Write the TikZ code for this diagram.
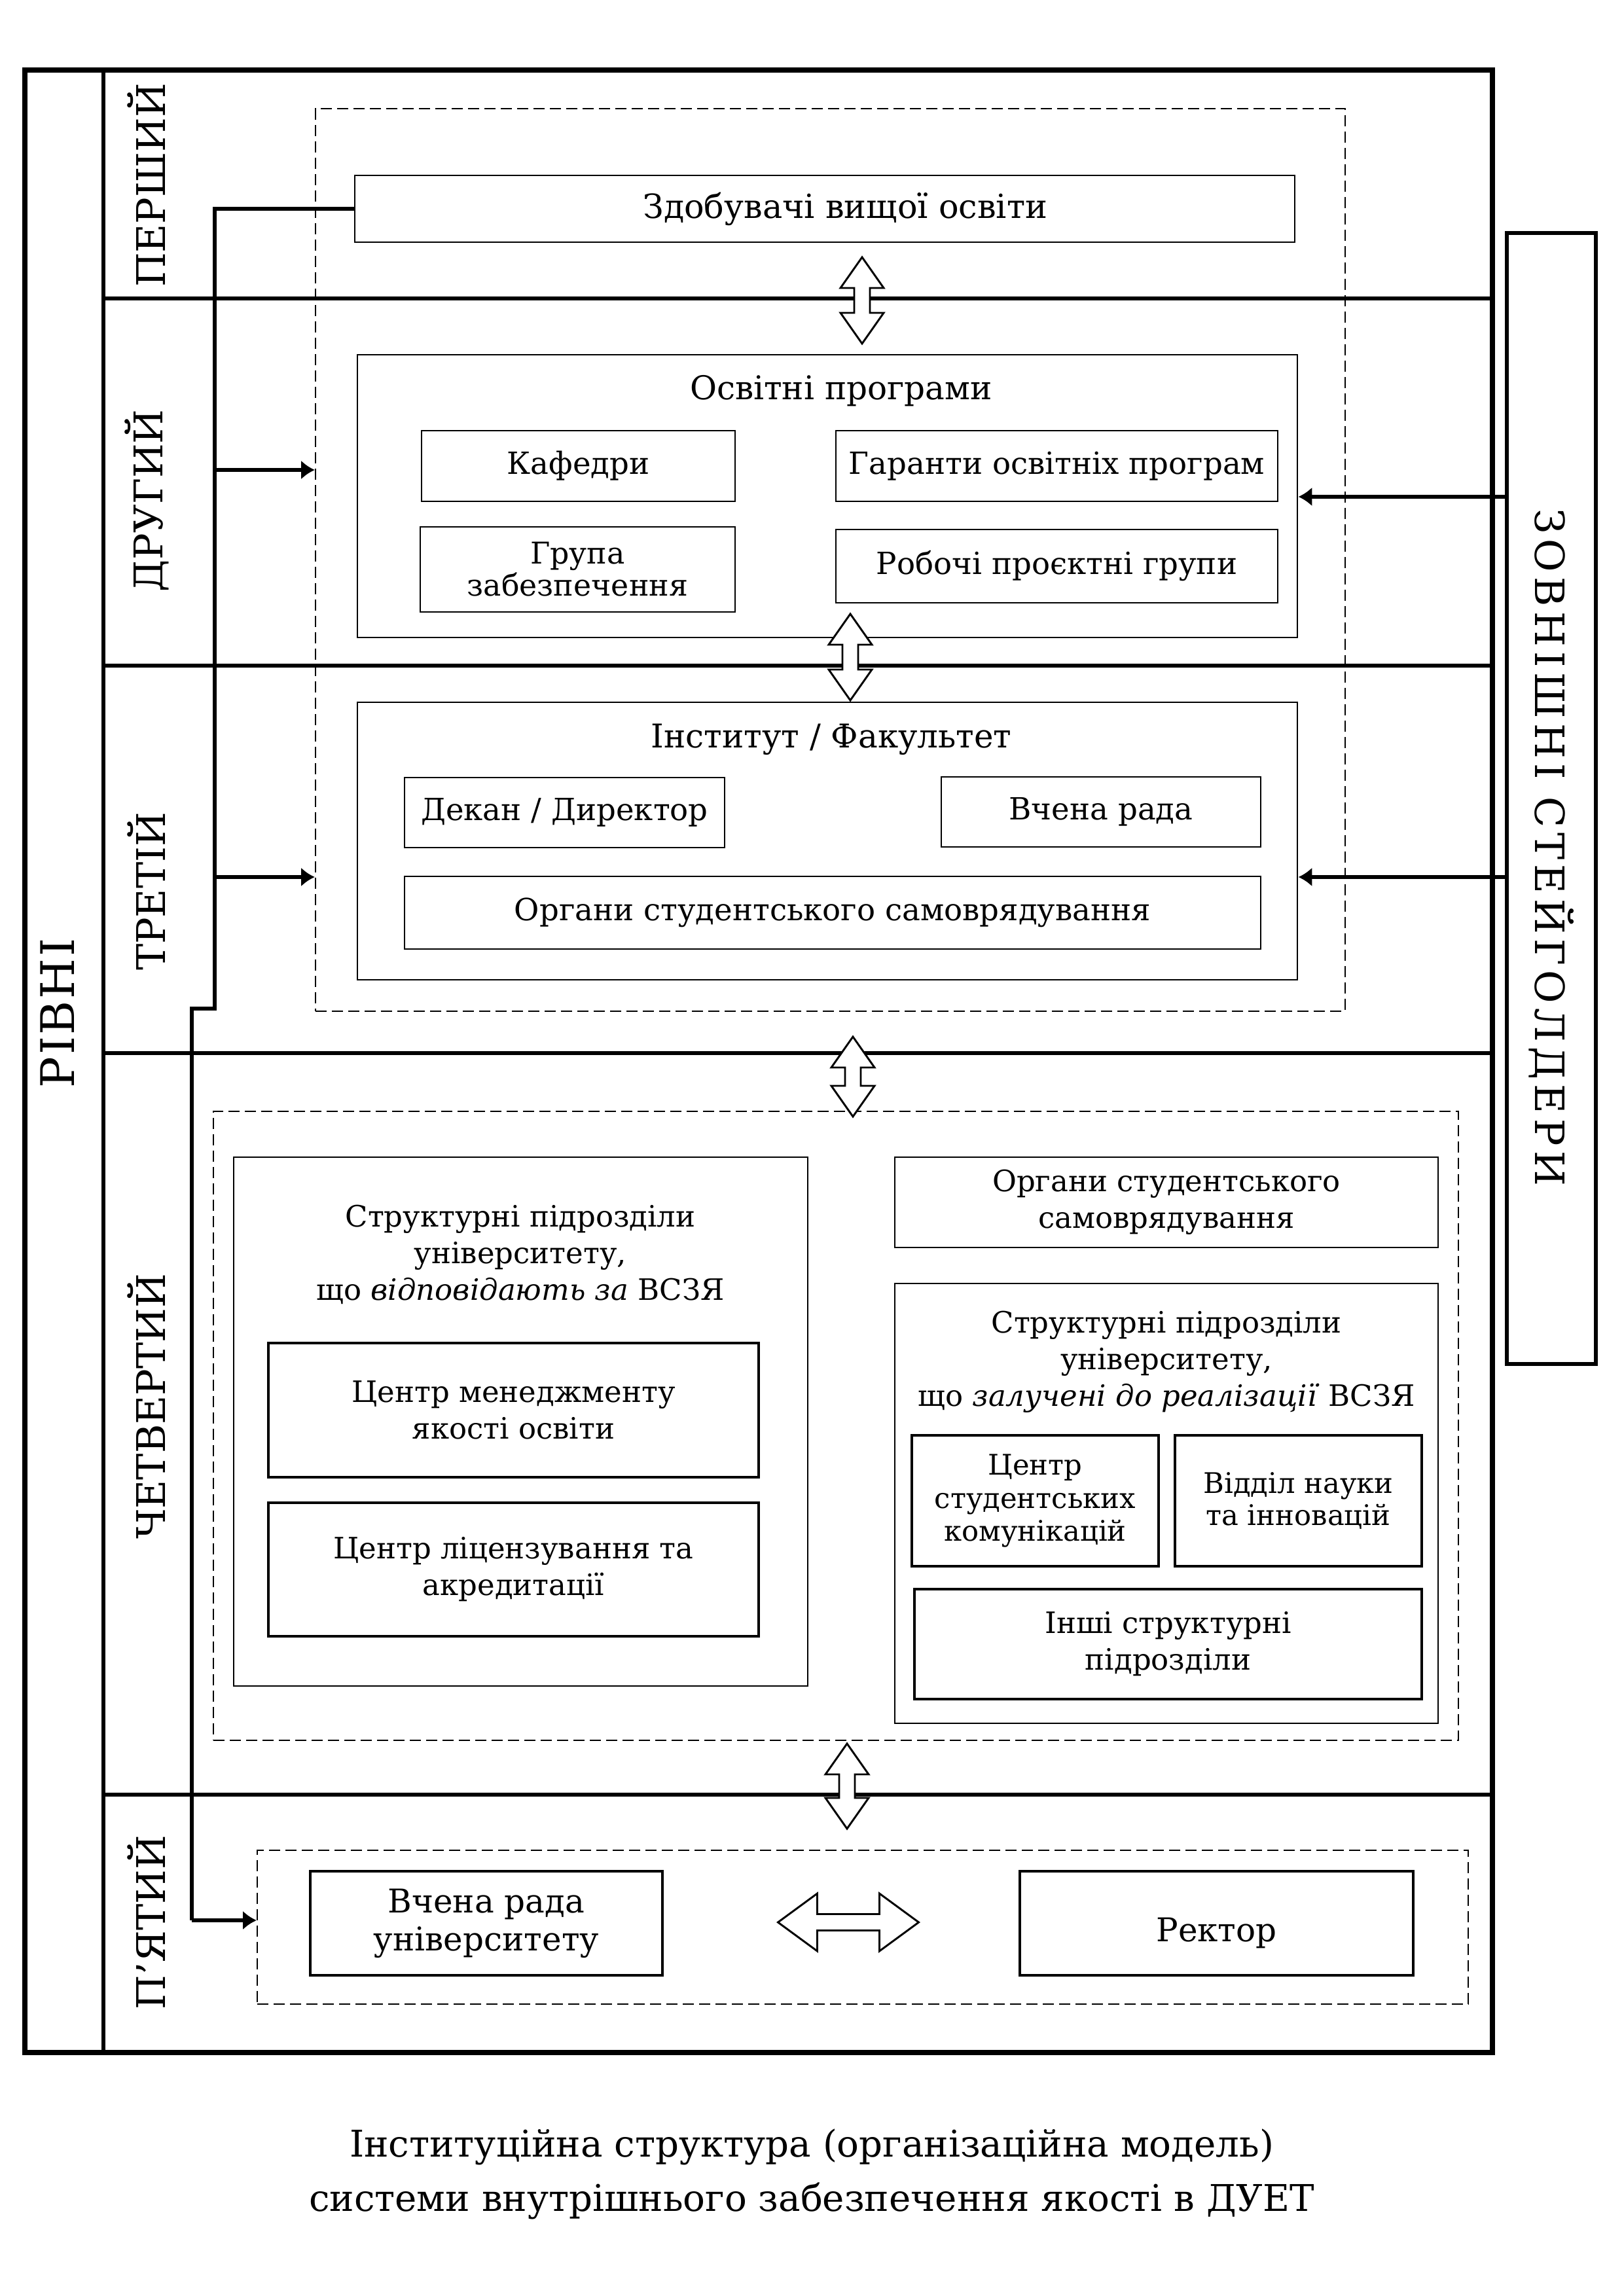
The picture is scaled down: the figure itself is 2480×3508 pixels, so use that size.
\documentclass[tikz,border=0pt]{standalone}
\usepackage{fontspec}
\setmainfont{DejaVu Serif}
\newfontfamily\spacedfont[LetterSpace=12]{DejaVu Serif}
\newfontfamily\lightspaced[LetterSpace=4]{DejaVu Serif}
\usetikzlibrary{arrows.meta}
\begin{document}
\begin{tikzpicture}[x=0.24pt,y=-0.24pt,
  bx/.style n args={4}{draw, line width=0.7pt, inner sep=0pt, align=center,
     minimum width={(#3-#1)*0.24pt}, minimum height={(#4-#2)*0.24pt},
     at={({(#1+#3)/2},{(#2+#4)/2})}},
  dbx/.style={dashed, dash pattern=on 4pt off 2pt, line width=0.5pt},
  lvl/.style={line width=1.6pt},
  conn/.style={line width=1.4pt},
  arr/.style={line width=1.4pt, -{Latex[length=5pt,width=7pt]}},
  dbl/.style={draw, fill=white, line width=0.7pt, line join=miter},
  ftitle/.style={font=\fontsize{12}{15}\selectfont},
  finner/.style={font=\fontsize{11.2}{13.5}\selectfont},
  ffour/.style={font=\fontsize{10.8}{13.4}\selectfont},
  fsmall/.style={font=\fontsize{10.4}{12.2}\selectfont},
  flevel/.style={font=\fontsize{14.5}{16}\selectfont, inner sep=0pt},
  pics/vdbl/.style={code={
    \draw[dbl] (0,-#1/2) -- (33,-#1/2+47) -- (12,-#1/2+47) -- (12,#1/2-47) -- (33,#1/2-47)
      -- (0,#1/2) -- (-33,#1/2-47) -- (-12,#1/2-47) -- (-12,-#1/2+47) -- (-33,-#1/2+47) -- cycle;}},
  pics/hdbl/.style={code={
    \draw[dbl] (-#1/2,0) -- (-#1/2+60,-44) -- (-#1/2+60,-12.5) -- (#1/2-60,-12.5) -- (#1/2-60,-44)
      -- (#1/2,0) -- (#1/2-60,44) -- (#1/2-60,12.5) -- (-#1/2+60,12.5) -- (-#1/2+60,44) -- cycle;}}
]
\useasboundingbox (0,0) rectangle (2480,3508);

% outer frame and level column
\node[bx={38}{107}{2280}{3136}, line width=1.7pt] (frame) {};
\coordinate (colT) at (158,107);
\coordinate (colB) at (158,3136);
\draw[lvl] (colT) -- (colB);

% level separators
\coordinate (l1a) at (158,456);  \coordinate (l1b) at (2280,456);
\coordinate (l2a) at (158,1017); \coordinate (l2b) at (2280,1017);
\coordinate (l3a) at (158,1609); \coordinate (l3b) at (2280,1609);
\coordinate (l4a) at (158,2742); \coordinate (l4b) at (2280,2742);
\draw[lvl] (l1a) -- (l1b);
\draw[lvl] (l2a) -- (l2b);
\draw[lvl] (l3a) -- (l3b);
\draw[lvl] (l4a) -- (l4b);

% labels
\node[rotate=90, font=\lightspaced\fontsize{17}{18}\selectfont, inner sep=0pt] (rivni) at (88,1548) {РІВНІ};
\node[rotate=90, flevel] (lev1) at (224,283) {ПЕРШИЙ};
\node[rotate=90, flevel] (lev2) at (224,765) {ДРУГИЙ};
\node[rotate=90, flevel] (lev3) at (224,1362) {ТРЕТІЙ};
\node[rotate=90, flevel] (lev4) at (224,2149) {ЧЕТВЕРТИЙ};
\node[rotate=90, flevel] (lev5) at (224,2937) {П’ЯТИЙ};

% external stakeholders
\node[bx={2302}{356}{2438}{2084}, line width=1.3pt] (stake) {};
\node[rotate=-90, font=\spacedfont\fontsize{14.8}{16}\selectfont, inner sep=0pt] (stakeT) at (2370,1295) {ЗОВНІШНІ СТЕЙГОЛДЕРИ};

% dashed groups
\node[bx={482}{166}{2055}{1545}, dbx] (dashA) {};
\node[bx={326}{1698}{2228}{2659}, dbx] (dashB) {};
\node[bx={393}{2827}{2243}{3062}, dbx] (dashC) {};

% level 1
\node[bx={542}{268}{1978}{370}, font=\fontsize{12.2}{14}\selectfont] (zdob) {\hspace*{15pt}Здобувачі вищої освіти};

% level 2
\node[bx={546}{542}{1982}{974}] (osv) {};
\node[ftitle] (osvT) at (1285,597) {Освітні програми};
\node[bx={644}{658}{1123}{766}, finner] (kaf) {Кафедри};
\node[bx={1277}{658}{1952}{766}, finner] (gar) {Гаранти освітніх програм};
\node[bx={642}{805}{1123}{935}, font=\fontsize{11}{11.8}\selectfont] (grup) {Група\\забезпечення};
\node[bx={1277}{809}{1952}{921}, finner] (rob) {Робочі проєктні групи};

% level 3
\node[bx={546}{1073}{1982}{1497}] (inst) {};
\node[ftitle] (instT) at (1270,1130) {Інститут / Факультет};
\node[bx={618}{1188}{1107}{1295}, finner] (dek) {Декан / Директор};
\node[bx={1438}{1187}{1926}{1294}, finner] (vch) {Вчена рада};
\node[bx={618}{1339}{1926}{1450}, finner] (org) {Органи студентського самоврядування};

% level 4
\node[bx={357}{1768}{1234}{2576}] (lbig) {};
\node[ffour, align=center] (lbT) at (795,1917) {Структурні підрозділи\\університету,\\що \textit{відповідають за} ВСЗЯ};
\node[bx={410}{2052}{1159}{2257}, ffour, line width=0.9pt] (cmy) {Центр менеджменту\\якості освіти};
\node[bx={410}{2296}{1159}{2500}, ffour, line width=0.9pt] (clic) {Центр ліцензування та\\акредитації};
\node[bx={1367}{1768}{2197}{1906}, ffour] (orgs) {Органи студентського\\самоврядування};
\node[bx={1367}{1961}{2197}{2633}] (rbig) {};
\node[ffour, align=center] (rbT) at (1782,2081) {Структурні підрозділи\\університету,\\що \textit{залучені до реалізації} ВСЗЯ};
\node[bx={1393}{2193}{1770}{2393}, fsmall, line width=0.9pt] (csk) {Центр\\студентських\\комунікацій};
\node[bx={1795}{2193}{2172}{2393}, font=\fontsize{10.4}{11.8}\selectfont, line width=0.9pt] (vni) {Відділ науки\\та інновацій};
\node[bx={1397}{2428}{2172}{2596}, ffour, line width=0.9pt] (inshi) {Інші структурні\\підрозділи};

% level 5
\node[bx={474}{2859}{1012}{3018}, font=\fontsize{12}{14}\selectfont, line width=0.9pt] (vru) {Вчена рада\\університету};
\node[bx={1558}{2859}{2159}{3018}, font=\fontsize{12}{14}\selectfont, line width=0.9pt] (rek) {\raisebox{-3.5pt}[\height][\depth]{Ректор}};

% double arrows
\pic at (1317,459) {vdbl=132};
\pic at (1299,1004) {vdbl=132};
\pic at (1303,1645) {vdbl=122};
\pic at (1294,2729) {vdbl=130};
\pic at (1296,2937) {hdbl=215};

% left connector
\coordinate (k1) at (328,318);
\coordinate (k2) at (328,1541);
\coordinate (k3) at (293,1541);
\coordinate (k4) at (293,2934);
\coordinate (k5) at (328,718);
\coordinate (k6) at (328,1340);
\draw[conn, line join=miter] (zdob.west) -- (zdob.west -| k1) -- (k2) -- (k3) -- (k4);
\draw[arr] (k4) -- (k4 -| dashC.west);
\draw[arr] (k5) -- (k5 -| dashA.west);
\draw[arr] (k6) -- (k6 -| dashA.west);

% stakeholder arrows
\coordinate (s1) at (2302,759);
\coordinate (s2) at (2302,1340);
\draw[arr] (stake.west |- s1) -- (osv.east |- s1);
\draw[arr] (stake.west |- s2) -- (inst.east |- s2);

% caption
\node[font=\fontsize{13.5}{20}\selectfont, align=center] (capt) at (1240,3322)
  {Інституційна структура (організаційна модель)\\системи внутрішнього забезпечення якості в ДУЕТ};
\end{tikzpicture}
\end{document}
